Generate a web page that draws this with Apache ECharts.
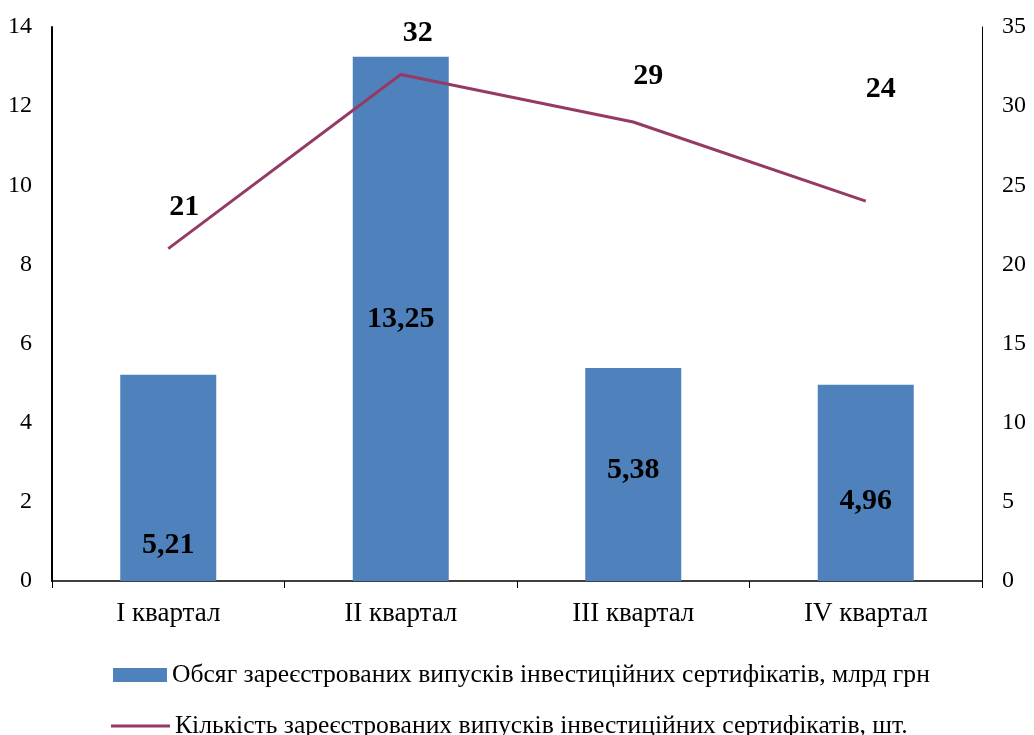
<!DOCTYPE html>
<html><head><meta charset="utf-8">
<script src="https://cdn.jsdelivr.net/npm/echarts@6/dist/echarts.min.js"></script>
<style>html,body{margin:0;padding:0;background:#fff}#c{width:1034px;height:735px}</style>
</head><body><div id="c"></div>
<script>
const categories = ['I квартал', 'II квартал', 'III квартал', 'IV квартал'];
const volumeValues = [5.21, 13.25, 5.38, 4.96];
const countValues = [21, 32, 29, 24];
const volumeName = 'Обсяг зареєстрованих випусків інвестиційних сертифікатів, млрд грн';
const countName = 'Кількість зареєстрованих випусків інвестиційних сертифікатів, шт.';

// label layout (style only)
const barLabelOffsetY = [67, 0, -4, 18];
const lineLabelOffsets = [[16, -21], [17, -21], [15, -26], [15, -92]];

const FONT = 'Liberation Serif';
const LINE_COLOR = '#953A65';
const chart = echarts.init(document.getElementById('c'));
chart.setOption({
  animation: false,
  textStyle: { fontFamily: FONT },
  grid: { left: 52, right: 52, top: 27, bottom: 154, containLabel: false },
  legend: [
    { data: [{ name: volumeName, icon: 'rect' }], left: 113, top: 662, padding: 0,
      itemWidth: 54, itemHeight: 14,
      textStyle: { fontFamily: FONT, fontSize: 25.6, color: '#000' } },
    { data: [{ name: countName, icon: 'rect', itemStyle: { color: LINE_COLOR } }], left: 111, top: 713,
      padding: 0, itemWidth: 59, itemHeight: 3,
      textStyle: { fontFamily: FONT, fontSize: 25.6, color: '#000' } }
  ],
  xAxis: {
    type: 'category', data: categories, boundaryGap: true,
    axisLine: { lineStyle: { color: '#000', width: 1.5 } },
    axisTick: { show: true, length: 7, lineStyle: { color: '#000' } },
    axisLabel: { color: '#000', fontSize: 27, fontFamily: FONT, margin: 19 }
  },
  yAxis: [
    { type: 'value', min: 0, max: 14, interval: 2, position: 'left',
      axisLine: { show: true, lineStyle: { color: '#000', width: 2 } },
      axisTick: { show: false }, splitLine: { show: false },
      axisLabel: { color: '#000', fontSize: 24, fontFamily: FONT, margin: 20 } },
    { type: 'value', min: 0, max: 35, interval: 5, position: 'right',
      axisLine: { show: true, lineStyle: { color: '#000', width: 1 } },
      axisTick: { show: false }, splitLine: { show: false },
      axisLabel: { color: '#000', fontSize: 24, fontFamily: FONT, margin: 20 } }
  ],
  series: [
    { name: volumeName, type: 'bar', yAxisIndex: 0, barWidth: 96,
      itemStyle: { color: '#4F81BD' },
      data: volumeValues.map((v, i) => ({ value: v,
        label: { show: true, position: 'inside', offset: [0, barLabelOffsetY[i]] } })),
      label: { show: true, position: 'inside', color: '#000', fontWeight: 'bold', fontSize: 30,
        fontFamily: FONT, formatter: p => String(p.value).replace('.', ',') } },
    { name: countName, type: 'line', yAxisIndex: 1, symbol: 'circle', symbolSize: 0.1, showSymbol: true,
      lineStyle: { color: LINE_COLOR, width: 3 }, itemStyle: { color: LINE_COLOR },
      data: countValues.map((v, i) => ({ value: v,
        label: { show: true, position: 'top', offset: lineLabelOffsets[i] } })),
      label: { show: true, position: 'top', color: '#000', fontWeight: 'bold', fontSize: 30,
        fontFamily: FONT } }
  ]
});
</script></body></html>
